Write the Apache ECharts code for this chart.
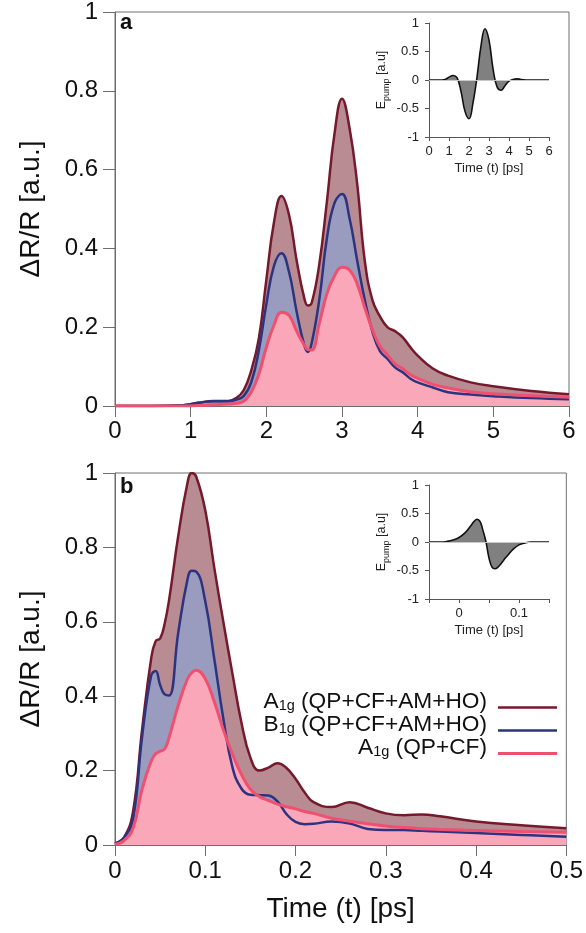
<!DOCTYPE html>
<html>
<head>
<meta charset="utf-8">
<script src="https://cdn.jsdelivr.net/npm/echarts@6/dist/echarts.min.js"></script>
<style>
  html, body { margin: 0; padding: 0; background: #ffffff; }
  #chart { width: 586px; height: 933px; }
</style>
</head>
<body>
<div id="chart"></div>
<script>
// ---- Panel a: ΔR/R transients, time in ps ----
const timeA = [0, 0.5, 0.9, 1.1, 1.3, 1.5, 1.6, 1.7, 1.8, 1.9, 2.0, 2.1, 2.2, 2.3, 2.4, 2.5, 2.55, 2.6, 2.7, 2.8, 2.9, 3.0, 3.1, 3.2, 3.3, 3.4, 3.5, 3.6, 3.7, 3.8, 3.9, 4.0, 4.2, 4.4, 4.7, 5.0, 5.5, 6.0];
const a1gFullA = [0, 0, 0.002, 0.008, 0.013, 0.013, 0.02, 0.04, 0.09, 0.17, 0.32, 0.465, 0.533, 0.485, 0.37, 0.275, 0.255, 0.262, 0.36, 0.518, 0.69, 0.78, 0.705, 0.565, 0.37, 0.27, 0.228, 0.2, 0.19, 0.175, 0.15, 0.128, 0.095, 0.077, 0.06, 0.05, 0.038, 0.03];
const b1gFullA = [0, 0, 0.002, 0.008, 0.012, 0.012, 0.016, 0.025, 0.06, 0.14, 0.258, 0.355, 0.388, 0.34, 0.24, 0.155, 0.137, 0.16, 0.27, 0.425, 0.515, 0.538, 0.476, 0.37, 0.27, 0.19, 0.14, 0.12, 0.098, 0.086, 0.07, 0.06, 0.047, 0.035, 0.029, 0.025, 0.02, 0.017];
const a1gQpA   = [0, 0, 0, 0.001, 0.003, 0.005, 0.007, 0.012, 0.035, 0.08, 0.149, 0.205, 0.238, 0.23, 0.19, 0.155, 0.143, 0.142, 0.21, 0.285, 0.33, 0.352, 0.345, 0.31, 0.25, 0.195, 0.152, 0.13, 0.107, 0.095, 0.08, 0.07, 0.055, 0.046, 0.036, 0.031, 0.026, 0.022];

// ---- Panel b: ΔR/R transients, time in ps ----
const timeB = [0, 0.01, 0.02, 0.03, 0.04, 0.045, 0.05, 0.055, 0.06, 0.07, 0.08, 0.085, 0.09, 0.1, 0.11, 0.12, 0.13, 0.14, 0.15, 0.16, 0.17, 0.18, 0.19, 0.2, 0.21, 0.22, 0.24, 0.26, 0.28, 0.3, 0.32, 0.34, 0.36, 0.4, 0.45, 0.5];
const a1gFullB = [0.004, 0.02, 0.09, 0.31, 0.5, 0.548, 0.555, 0.595, 0.66, 0.83, 0.97, 1.0, 0.99, 0.9, 0.745, 0.6, 0.462, 0.33, 0.235, 0.2, 0.208, 0.22, 0.207, 0.178, 0.142, 0.115, 0.102, 0.115, 0.1, 0.085, 0.08, 0.082, 0.077, 0.063, 0.053, 0.045];
const b1gFullB = [0.004, 0.02, 0.07, 0.29, 0.455, 0.468, 0.43, 0.405, 0.402, 0.57, 0.71, 0.737, 0.735, 0.655, 0.5, 0.34, 0.21, 0.152, 0.135, 0.134, 0.133, 0.117, 0.083, 0.062, 0.056, 0.057, 0.063, 0.058, 0.043, 0.04, 0.04, 0.038, 0.036, 0.032, 0.027, 0.022];
const a1gQpB   = [0.002, 0.012, 0.045, 0.15, 0.225, 0.245, 0.252, 0.258, 0.29, 0.375, 0.445, 0.463, 0.47, 0.447, 0.385, 0.31, 0.245, 0.19, 0.15, 0.13, 0.12, 0.11, 0.103, 0.097, 0.09, 0.085, 0.072, 0.064, 0.057, 0.051, 0.047, 0.044, 0.042, 0.039, 0.036, 0.034];

// ---- Pump field insets ----
const pumpTimeA  = [0, 0.5, 0.8, 1.0, 1.2, 1.4, 1.6, 1.8, 2.0, 2.2, 2.4, 2.6, 2.8, 3.0, 3.2, 3.4, 3.6, 3.8, 4.0, 4.2, 4.4, 4.6, 5.0, 6.0];
const pumpFieldA = [0, 0, 0.01, 0.05, 0.08, 0.04, -0.2, -0.55, -0.68, -0.4, 0.05, 0.6, 0.9, 0.7, 0.2, -0.12, -0.18, -0.1, -0.02, 0.01, 0.02, 0.01, 0, 0];
const pumpTimeB  = [-0.05, -0.03, -0.02, -0.01, 0, 0.01, 0.02, 0.025, 0.03, 0.035, 0.04, 0.045, 0.05, 0.055, 0.06, 0.065, 0.07, 0.075, 0.08, 0.09, 0.1, 0.11, 0.12, 0.15];
const pumpFieldB = [0, 0, 0.01, 0.035, 0.08, 0.16, 0.29, 0.36, 0.4, 0.36, 0.2, 0, -0.28, -0.44, -0.47, -0.44, -0.38, -0.31, -0.25, -0.13, -0.05, -0.015, 0, 0];

// ---- Labels ----
const legendLabels = ['A{s|1g} (QP+CF+AM+HO)', 'B{s|1g} (QP+CF+AM+HO)', 'A{s|1g} (QP+CF)'];
const panelLetters = ['a', 'b'];
const yTitle = 'ΔR/R [a.u.]';
const xTitle = 'Time (t) [ps]';
const insetYTitle = '{m|E}{s|pump}{m| [a.u]}';

// ---- Styling ----
const FONT = "'Liberation Sans', Arial, Helvetica, sans-serif";
const lineColors = ['#751a2d', '#2c3480', '#f0506f'];
const fillColors = ['#b98c93', '#9a9cbf', '#f9a7b9'];
const lineWidths = [2.5, 2.5, 3];
const axisGray = '#6e6e6e';
const SMOOTH = 0.45;

const pairs = (t, v) => t.map((x, i) => [x, v[i]]);

function areaSeries(idx, data, k) {
  return {
    type: 'line', xAxisIndex: idx, yAxisIndex: idx, data,
    smooth: SMOOTH, symbol: 'none', silent: true,
    lineStyle: { width: 0 }, areaStyle: { color: fillColors[k], opacity: 1 }, z: 2
  };
}
function lineSeries(idx, data, k) {
  return {
    type: 'line', xAxisIndex: idx, yAxisIndex: idx, data,
    smooth: SMOOTH, symbol: 'none', silent: true,
    lineStyle: { color: lineColors[k], width: lineWidths[k] }, z: 3
  };
}
function pumpSeries(idx, data) {
  return {
    type: 'line', xAxisIndex: idx, yAxisIndex: idx, data,
    smooth: SMOOTH, symbol: 'none', silent: true,
    lineStyle: { color: '#111', width: 1.6 },
    areaStyle: { color: '#808080', opacity: 1 },
    markLine: {
      silent: true, symbol: 'none', label: { show: false },
      lineStyle: { color: '#c8c8c8', width: 1, type: 'solid' },
      data: [{ yAxis: 0 }]
    },
    z: 3
  };
}

const mainX = (idx, max, interval, margin, withName) => ({
  type: 'value', gridIndex: idx, min: 0, max, interval,
  axisLine: { onZero: false, lineStyle: { color: axisGray, width: 1 } },
  axisTick: { length: 11, lineStyle: { color: axisGray } },
  axisLabel: { fontSize: 24, color: '#111', fontFamily: FONT, margin },
  splitLine: { show: false },
  name: withName ? xTitle : '', nameLocation: 'middle', nameGap: 50,
  nameTextStyle: { fontSize: 28, color: '#111', fontFamily: FONT }
});
const mainY = (idx) => ({
  type: 'value', gridIndex: idx, min: 0, max: 1, interval: 0.2,
  axisLine: { show: true, onZero: false, lineStyle: { color: axisGray, width: 1 } },
  axisTick: { show: true, length: 12, lineStyle: { color: axisGray } },
  axisLabel: { fontSize: 24, color: '#111', fontFamily: FONT, margin: 17 },
  splitLine: { show: false },
  name: yTitle, nameLocation: 'middle', nameGap: 70,
  nameTextStyle: { fontSize: 28, color: '#111', fontFamily: FONT }
});
const insetX = (idx, min, max, interval, fmt) => ({
  type: 'value', gridIndex: idx, min, max, interval,
  axisLine: { onZero: false, lineStyle: { color: '#555', width: 1 } },
  axisTick: { length: 4, lineStyle: { color: '#555' } },
  axisLabel: { fontSize: 13, color: '#222', fontFamily: FONT, margin: 8, formatter: fmt },
  splitLine: { show: false },
  name: xTitle, nameLocation: 'middle', nameGap: 25,
  nameTextStyle: { fontSize: 13, color: '#222', fontFamily: FONT }
});
const insetY = (idx) => ({
  type: 'value', gridIndex: idx, min: -1, max: 1, interval: 0.5,
  axisLine: { show: true, onZero: false, lineStyle: { color: '#555', width: 1 } },
  axisTick: { show: true, length: 4, lineStyle: { color: '#555' } },
  axisLabel: { fontSize: 13, color: '#222', fontFamily: FONT, margin: 10 },
  splitLine: { show: false },
  name: insetYTitle, nameLocation: 'middle', nameGap: 38,
  nameTextStyle: {
    fontFamily: FONT, color: '#222',
    rich: {
      m: { fontSize: 12.5, lineHeight: 16, verticalAlign: 'top', color: '#222', fontFamily: FONT },
      s: { fontSize: 9, lineHeight: 7, verticalAlign: 'bottom', color: '#222', fontFamily: FONT }
    }
  }
});

const insetBFmt = v => (Math.abs(v) < 1e-9 ? '0' : (Math.abs(v - 0.1) < 1e-9 ? '0.1' : ''));

const legendRows = [702, 725, 748];
const legendGraphics = [];
legendLabels.forEach((label, k) => {
  legendGraphics.push({
    type: 'text', x: 487, y: legendRows[k], silent: true,
    style: {
      text: label, align: 'right', verticalAlign: 'middle',
      fontFamily: FONT, fontSize: 22.7, fill: '#111',
      rich: {
        s: { fontSize: 14.5, lineHeight: 10, verticalAlign: 'bottom', fontFamily: FONT, fill: '#111' }
      }
    }
  });
  legendGraphics.push({
    type: 'line', silent: true,
    shape: { x1: 498, y1: legendRows[k] + 5.5, x2: 557, y2: legendRows[k] + 5.5 },
    style: { stroke: lineColors[k], lineWidth: lineWidths[k] }
  });
});

const option = {
  animation: false,
  backgroundColor: '#ffffff',
  textStyle: { fontFamily: FONT },
  grid: [
    { left: 115, top: 8, width: 454, height: 398, show: true, borderColor: axisGray, borderWidth: 1, backgroundColor: 'transparent' },
    { left: 115, top: 473, width: 454, height: 372, show: true, borderColor: axisGray, borderWidth: 1, backgroundColor: 'transparent' },
    { left: 429, top: 23, width: 120, height: 114 },
    { left: 429, top: 485, width: 120, height: 114 }
  ],
  xAxis: [
    mainX(0, 6, 1, 13, false),
    mainX(1, 0.5, 0.1, 14, true),
    insetX(2, 0, 6, 1, null),
    insetX(3, -0.05, 0.15, 0.05, insetBFmt)
  ],
  yAxis: [mainY(0), mainY(1), insetY(2), insetY(3)],
  series: [
    areaSeries(0, pairs(timeA, a1gFullA), 0),
    areaSeries(0, pairs(timeA, b1gFullA), 1),
    areaSeries(0, pairs(timeA, a1gQpA), 2),
    lineSeries(0, pairs(timeA, a1gFullA), 0),
    lineSeries(0, pairs(timeA, b1gFullA), 1),
    lineSeries(0, pairs(timeA, a1gQpA), 2),
    areaSeries(1, pairs(timeB, a1gFullB), 0),
    areaSeries(1, pairs(timeB, b1gFullB), 1),
    areaSeries(1, pairs(timeB, a1gQpB), 2),
    lineSeries(1, pairs(timeB, a1gFullB), 0),
    lineSeries(1, pairs(timeB, b1gFullB), 1),
    lineSeries(1, pairs(timeB, a1gQpB), 2),
    pumpSeries(2, pairs(pumpTimeA, pumpFieldA)),
    pumpSeries(3, pairs(pumpTimeB, pumpFieldB))
  ],
  graphic: [
    { type: 'text', x: 120, y: 12, silent: true,
      style: { text: panelLetters[0], fontFamily: FONT, fontSize: 22, fontWeight: 'bold', fill: '#111', verticalAlign: 'top' } },
    { type: 'text', x: 120, y: 476, silent: true,
      style: { text: panelLetters[1], fontFamily: FONT, fontSize: 22, fontWeight: 'bold', fill: '#111', verticalAlign: 'top' } }
  ].concat(legendGraphics)
};

const chart = echarts.init(document.getElementById('chart'), null, { renderer: 'canvas' });
chart.setOption(option);
</script>
</body>
</html>
